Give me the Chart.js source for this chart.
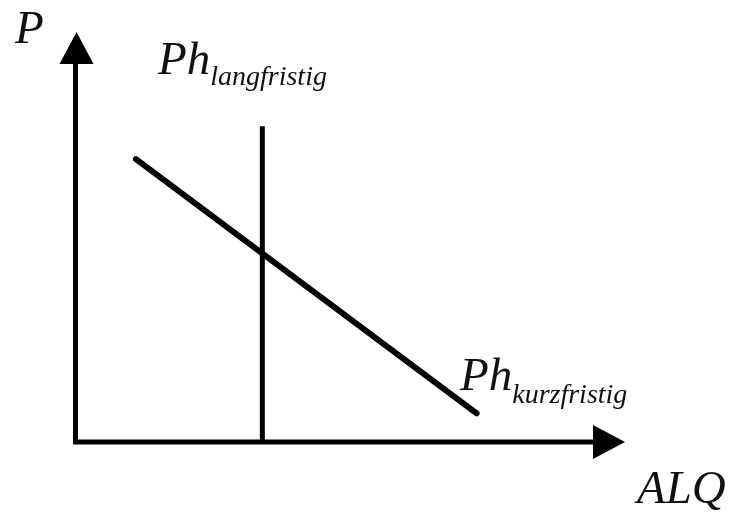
<!DOCTYPE html>
<html>
<head>
<meta charset="utf-8">
<script src="https://cdn.jsdelivr.net/npm/chart.js@4"></script>
<style>
  html, body { margin: 0; padding: 0; background: #fff; }
  #wrap { position: relative; width: 733px; height: 512px; }
  .lbl {
    position: absolute;
    font-family: 'Liberation Serif';
    font-style: italic;
    font-size: 47px;
    line-height: 1;
    color: #111;
    white-space: nowrap;
  }
  .lbl .sub { font-size: 28px; position: relative; }
</style>
</head>
<body>
<div id="wrap">
  <canvas id="myChart"></canvas>
  <span class="lbl" style="left:15px; top:3.6px">P</span>
  <span class="lbl" style="left:637px; top:463.6px">ALQ</span>
  <span class="lbl" style="left:158px; top:34.6px">Ph<span class="sub" style="top:11px">langfristig</span></span>
  <span class="lbl" style="left:460px; top:350.6px">Ph<span class="sub" style="top:13px">kurzfristig</span></span>
</div>
<script>
// axis ranges (ALQ horizontal, P vertical)
const xRange = [0, 10];
const yRange = [0, 10];

// long-run Phillips curve: vertical
const longRunX = [3.4, 3.4];
const longRunY = [0, 7.7];

// short-run Phillips curve: falling
const shortRunX = [1.1, 7.3];
const shortRunY = [6.9, 0.7];

const toPoints = (xs, ys) => xs.map((x, i) => ({ x: x, y: ys[i] }));

// axes with arrow heads
const axesPlugin = {
  id: 'arrowAxes',
  afterDatasetsDraw(chart) {
    const c = chart.ctx;
    const xs = chart.scales.x, ys = chart.scales.y;
    const x0 = xs.getPixelForValue(xRange[0]);
    const x1 = xs.getPixelForValue(xRange[1]);
    const y0 = ys.getPixelForValue(yRange[0]);
    const y1 = ys.getPixelForValue(yRange[1]);
    const head = 32, half = 17;

    c.save();
    c.strokeStyle = '#000';
    c.fillStyle = '#000';
    c.lineWidth = 5;
    c.lineCap = 'square';
    c.beginPath();
    c.moveTo(x0, y0);
    c.lineTo(x1 - head, y0);
    c.moveTo(x0, y0);
    c.lineTo(x0, y1 + head);
    c.stroke();

    c.beginPath();
    c.moveTo(x1, y0);
    c.lineTo(x1 - head, y0 - half);
    c.lineTo(x1 - head, y0 + half);
    c.closePath();
    c.fill();

    c.beginPath();
    c.moveTo(x0 + 1, y1);
    c.lineTo(x0 + 1 - half, y1 + head);
    c.lineTo(x0 + 1 + half, y1 + head);
    c.closePath();
    c.fill();
    c.restore();
  }
};

new Chart(document.getElementById('myChart'), {
  type: 'scatter',
  data: {
    datasets: [
      {
        label: 'Ph langfristig',
        data: toPoints(longRunX, longRunY),
        showLine: true,
        borderColor: '#000',
        borderWidth: 5,
        pointRadius: 0,
        borderCapStyle: 'butt'
      },
      {
        label: 'Ph kurzfristig',
        data: toPoints(shortRunX, shortRunY),
        showLine: true,
        borderColor: '#000',
        borderWidth: 6,
        pointRadius: 0,
        borderCapStyle: 'round'
      }
    ]
  },
  options: {
    responsive: true,
    maintainAspectRatio: false,
    animation: false,
    layout: {
      padding: { left: 75.5, right: 108, top: 32, bottom: 70 }
    },
    scales: {
      x: { type: 'linear', min: xRange[0], max: xRange[1], display: false },
      y: { type: 'linear', min: yRange[0], max: yRange[1], display: false }
    },
    plugins: {
      legend: { display: false },
      tooltip: { enabled: false },
      title: { display: false }
    }
  },
  plugins: [axesPlugin]
});
</script>
</body>
</html>
